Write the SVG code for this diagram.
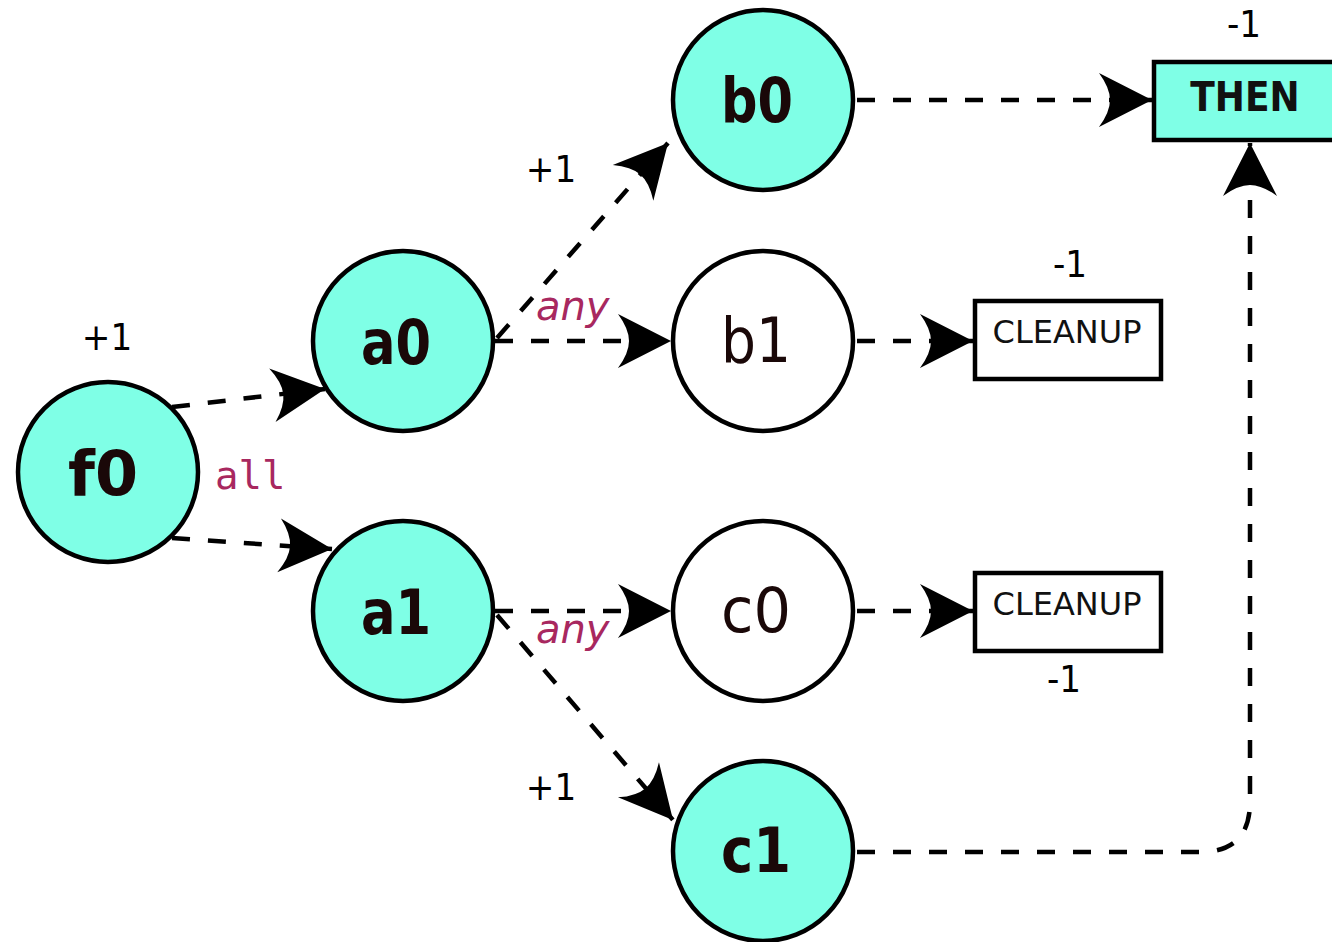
<svg xmlns="http://www.w3.org/2000/svg" width="1332" height="942" viewBox="0 0 1332 942">
<style>
.node{fill:#7fffe6;stroke:#000;stroke-width:4.5}
.plain{fill:#fff;stroke:#000;stroke-width:4.5}
.lbl{font-family:"DejaVu Sans Condensed","DejaVu Sans","Liberation Sans",sans-serif;font-size:63px;fill:#1a0808;text-anchor:middle;font-weight:bold}
.lbln{font-family:"DejaVu Sans Condensed","DejaVu Sans","Liberation Sans",sans-serif;font-size:62px;fill:#1a0808;text-anchor:middle}
.num{font-family:"DejaVu Sans Condensed","DejaVu Sans","Liberation Sans",sans-serif;font-size:38px;fill:#000;text-anchor:middle}
.edge{fill:none;stroke:#000;stroke-width:4.5;stroke-dasharray:18 18}
.all{font-family:"DejaVu Sans Mono","Liberation Mono",monospace;font-size:39px;fill:#a8285f}
.any{font-family:"DejaVu Sans","Liberation Sans",sans-serif;font-size:40px;font-style:italic;fill:#a8285f}
.box{font-family:"DejaVu Sans","Liberation Sans",sans-serif;font-size:32px;fill:#111;text-anchor:middle}
.then{font-family:"DejaVu Sans Condensed","DejaVu Sans","Liberation Sans",sans-serif;font-size:40px;font-weight:bold;fill:#111;text-anchor:middle}
</style>
<defs>
<marker id="arr" markerUnits="userSpaceOnUse" markerWidth="56" markerHeight="56" viewBox="0 0 56 56" refX="54" refY="28" orient="auto">
<path d="M54,28 L1,1 Q12,16 12,28 Q12,40 1,55 Z" fill="#000" stroke="none"/>
</marker>
</defs>
<g id="connectors">
<path class="edge" d="M172,407 L325,389" marker-end="url(#arr)"/>
<path class="edge" d="M172,538 L332,549" marker-end="url(#arr)"/>
<path class="edge" d="M497,338 L668,143" marker-end="url(#arr)"/>
<path class="edge" d="M495,341 L671,341" marker-end="url(#arr)"/>
<path class="edge" d="M495,611 L671,611" marker-end="url(#arr)"/>
<path class="edge" d="M497,615 L673,820" marker-end="url(#arr)"/>
<path class="edge" d="M857,100 L1152,100" marker-end="url(#arr)"/>
<path class="edge" d="M857,341 L973,341" marker-end="url(#arr)"/>
<path class="edge" d="M857,611 L973,611" marker-end="url(#arr)"/>
<path class="edge" d="M857,852 L1200,852 Q1250,852 1250,802 L1250,143" marker-end="url(#arr)"/>
</g>
<g id="f0"><circle class="node" cx="108" cy="472" r="90"/><text class="lbl" x="103" y="495" textLength="70" lengthAdjust="spacingAndGlyphs">f0</text><text class="num" x="107" y="350">+1</text></g>
<g id="a0"><circle class="node" cx="403" cy="341" r="90"/><text class="lbl" x="396" y="364" textLength="70" lengthAdjust="spacingAndGlyphs">a0</text></g>
<g id="a1"><circle class="node" cx="403" cy="611" r="90"/><text class="lbl" x="396" y="634" textLength="70" lengthAdjust="spacingAndGlyphs">a1</text></g>
<g id="b0"><circle class="node" cx="763" cy="100" r="90"/><text class="lbl" x="757" y="122" textLength="72" lengthAdjust="spacingAndGlyphs">b0</text></g>
<g id="b1"><circle class="plain" cx="763" cy="341" r="90"/><text class="lbln" x="756" y="362" textLength="70" lengthAdjust="spacingAndGlyphs">b1</text></g>
<g id="c0"><circle class="plain" cx="763" cy="611" r="90"/><text class="lbln" x="756" y="632" textLength="70" lengthAdjust="spacingAndGlyphs">c0</text></g>
<g id="c1"><circle class="node" cx="763" cy="851" r="90"/><text class="lbl" x="756" y="872" textLength="70" lengthAdjust="spacingAndGlyphs">c1</text></g>
<g id="then"><rect x="1154" y="62" width="200" height="78" fill="#7fffe6" stroke="#000" stroke-width="4.5"/><text class="then" x="1245" y="111">THEN</text><text class="num" x="1244" y="37">-1</text></g>
<g id="cleanup1"><rect x="975" y="301" width="186" height="78" fill="#fff" stroke="#000" stroke-width="4.5"/><text class="box" x="1067" y="343">CLEANUP</text><text class="num" x="1070" y="277">-1</text></g>
<g id="cleanup2"><rect x="975" y="573" width="186" height="78" fill="#fff" stroke="#000" stroke-width="4.5"/><text class="box" x="1067" y="615">CLEANUP</text><text class="num" x="1064" y="692">-1</text></g>
<g id="labels">
<text class="all" x="215" y="489">all</text>
<text class="any" x="536" y="320">any</text>
<text class="any" x="536" y="643">any</text>
<text class="num" x="551" y="182">+1</text>
<text class="num" x="551" y="800">+1</text>
</g>
</svg>
